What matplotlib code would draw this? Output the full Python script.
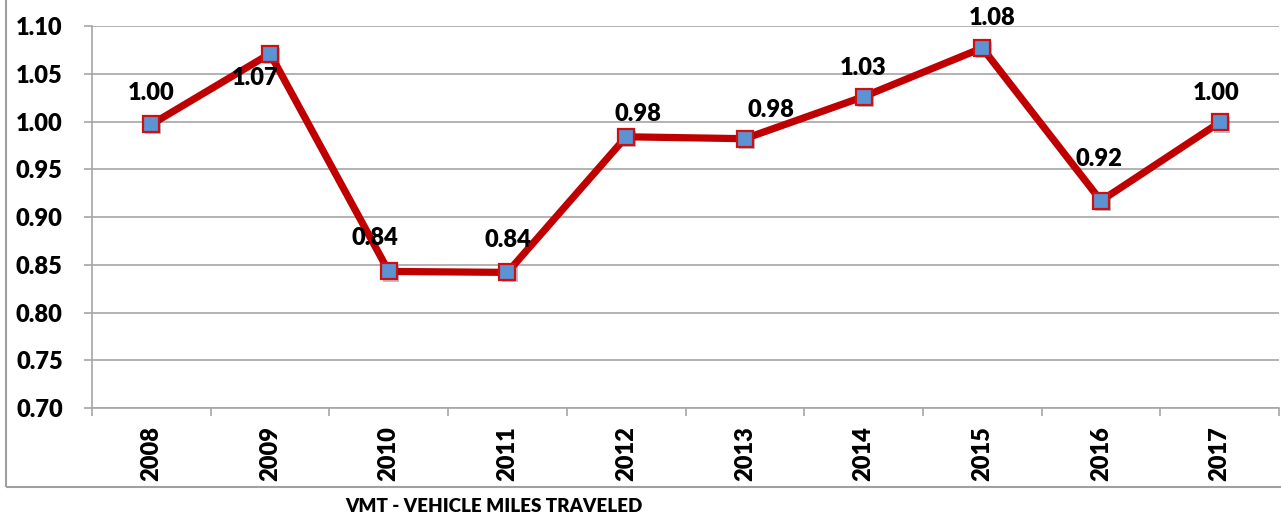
import matplotlib
matplotlib.use("Agg")
import matplotlib.pyplot as plt
from matplotlib.patches import Rectangle
import matplotlib.patheffects as pe

years = ["2008", "2009", "2010", "2011", "2012", "2013", "2014", "2015", "2016", "2017"]
vmt = [0.997, 1.071, 0.843, 0.842, 0.984, 0.982, 1.026, 1.077, 0.917, 0.999]
y_ticks = [0.70, 0.75, 0.80, 0.85, 0.90, 0.95, 1.00, 1.05, 1.10]
x_title = "VMT - VEHICLE MILES TRAVELED"

# label offsets in pixels (dx, dy upward positive)
label_offsets = [(0, 31), (-15, -24), (-14, 33), (0, 32), (12, 23),
                 (26, 29), (0, 29), (10, 30), (-2, 42), (-3, 29)]

plt.rcParams['font.family'] = ['Lato', 'DejaVu Sans']
WEIGHT = "heavy"
W, H = 1281, 517
fig = plt.figure(figsize=(W / 100, H / 100), dpi=100)
ax = fig.add_axes([92 / W, 1 - 408 / H, (1279 - 92) / W, (408 - 26) / H])

x = list(range(len(years)))
ax.plot(x, vmt, color="#C00000", lw=5.2, zorder=3, solid_joinstyle="miter")
ax.plot(x, vmt, linestyle="none", marker="s", markersize=11.5,
        markerfacecolor="#5B93D3", markeredgecolor="#D01010", markeredgewidth=1.6,
        zorder=4,
        path_effects=[pe.SimplePatchShadow(offset=(1.5, -1.5), alpha=0.3), pe.Normal()])

for i, v in enumerate(vmt):
    dx, dy = label_offsets[i]
    ax.annotate(f"{v:.2f}", (i, v), xytext=(dx * 0.72, dy * 0.72),
                textcoords="offset points", ha="center", va="center",
                fontsize=17, fontweight=WEIGHT, color="black", zorder=5)

ax.set_xlim(-0.5, len(years) - 0.5)
ax.set_ylim(0.70, 1.10)
ax.set_yticks(y_ticks)
ax.set_yticklabels([f"{t:.2f}" for t in y_ticks], fontsize=17, fontweight=WEIGHT)
ax.yaxis.grid(True, color="#A6A6A6", lw=1.2)
ax.set_axisbelow(True)

ax.set_xticks(x)
ax.set_xticklabels(years, rotation=90, fontsize=17, fontweight=WEIGHT)
ax.tick_params(axis="x", which="major", length=0, pad=13)
ax.set_xticks([i - 0.5 for i in range(len(years) + 1)], minor=True)
ax.tick_params(axis="x", which="minor", length=6, color="#A6A6A6", width=1.2)
ax.tick_params(axis="y", length=6, color="#A6A6A6", width=1.2, pad=15)

for s in ["top", "right"]:
    ax.spines[s].set_visible(False)
for s in ["left", "bottom"]:
    ax.spines[s].set_color("#A6A6A6")
    ax.spines[s].set_linewidth(1.2)

fig.text(494 / W, 1 - 506 / H, x_title, ha="center", va="center",
         fontsize=13.5, fontweight=WEIGHT)

fig.patches.append(Rectangle((6 / W, 1 - 487 / H), 1.2, 1.2, transform=fig.transFigure,
                             fill=False, edgecolor="#A0A0A0", lw=1.5, clip_on=False))

fig.savefig("out.png", dpi=100)
